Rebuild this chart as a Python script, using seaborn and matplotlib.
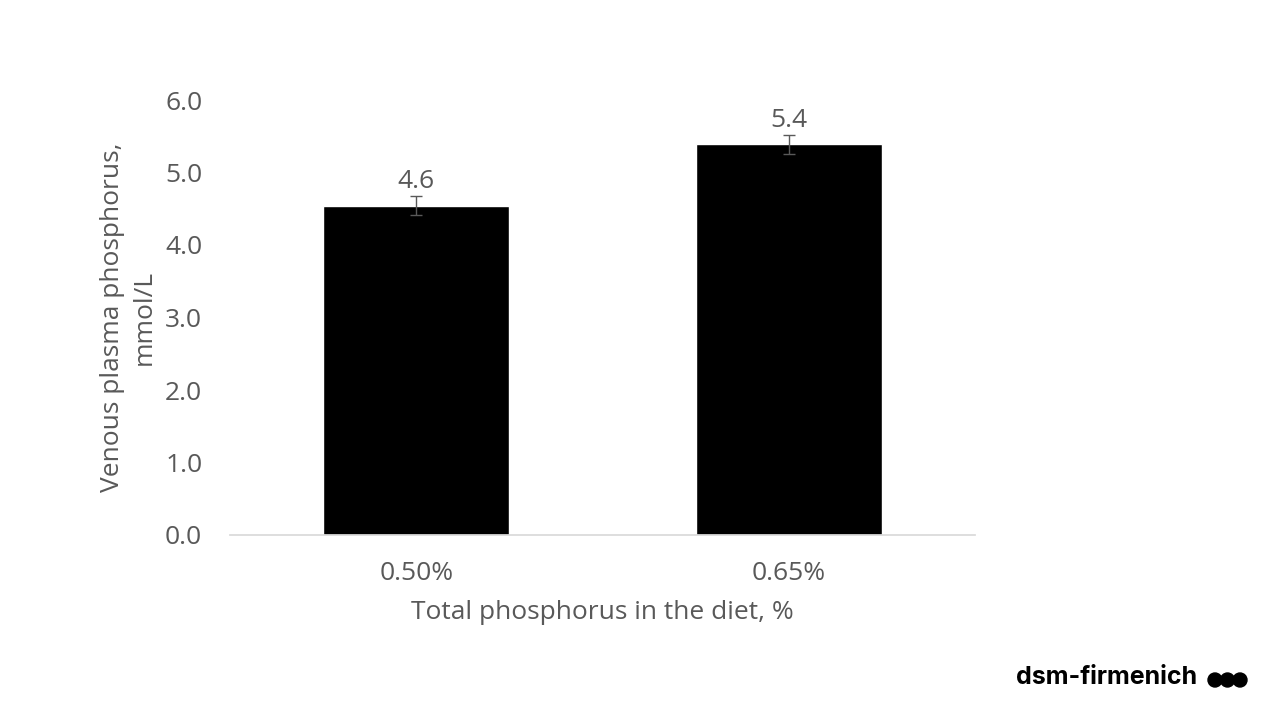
import numpy as np; import pandas as pd; import matplotlib
matplotlib.use("Agg")
import matplotlib.pyplot as plt; import seaborn as sns
from matplotlib.patches import Ellipse

# --- Data ---
diet_levels = ["0.50%", "0.65%"]
plasma_p = [4.54, 5.39]
plasma_err = [0.13, 0.13]
bar_labels = ["4.6", "5.4"]
y_ticks = [0.0, 1.0, 2.0, 3.0, 4.0, 5.0, 6.0]

df = pd.DataFrame({"Diet": diet_levels, "P": plasma_p})

sns.set_theme(style="white")
plt.rcParams["font.family"] = ["Open Sans", "DejaVu Sans"]
grey = "#595959"; fs = 19

fig = plt.figure(figsize=(12.8, 7.2), dpi=100)
ax = fig.add_axes([230/1280, 1-535/720, 745/1280, 435/720])

sns.barplot(data=df, x="Diet", y="P", color="black", width=0.5,
            saturation=1, ax=ax, errorbar=None)
ax.errorbar(range(len(plasma_p)), plasma_p, yerr=plasma_err, fmt="none",
            ecolor=grey, elinewidth=1, capsize=4, capthick=1)
for i, (v, lab) in enumerate(zip(plasma_p, bar_labels)):
    ax.text(i, v + 0.16, lab, ha="center", va="bottom", fontsize=fs, color=grey)

ax.set_xlim(-0.5, 1.5); ax.set_ylim(0, 6)
ax.set_yticks(y_ticks)
ax.set_yticklabels([f"{t:.1f}" for t in y_ticks])
ax.tick_params(axis="both", length=0, labelsize=fs, labelcolor=grey)
ax.tick_params(axis="y", pad=20); ax.tick_params(axis="x", pad=19)
for s in ["top", "right", "left"]: ax.spines[s].set_visible(False)
ax.spines["bottom"].set_color("#d9d9d9")
ax.set_xlabel("Total phosphorus in the diet, %", fontsize=fs, color=grey, labelpad=10)
ax.set_ylabel("Venous plasma phosphorus,\nmmol/L", fontsize=fs, color=grey, labelpad=6,
              linespacing=1.35)

# --- Brand mark ---
fig.text(1016/1280, 1-678/720, "dsm-firmenich", fontsize=18, fontweight="bold",
         color="black", va="center", ha="left", family=["Inter", "DejaVu Sans"])
for cx in [1215, 1227.5, 1240]:
    fig.patches.append(Ellipse((cx/1280, 1-680/720), 14/1280, 14/720,
                               transform=fig.transFigure, color="black"))

fig.savefig("out.png", dpi=100)
